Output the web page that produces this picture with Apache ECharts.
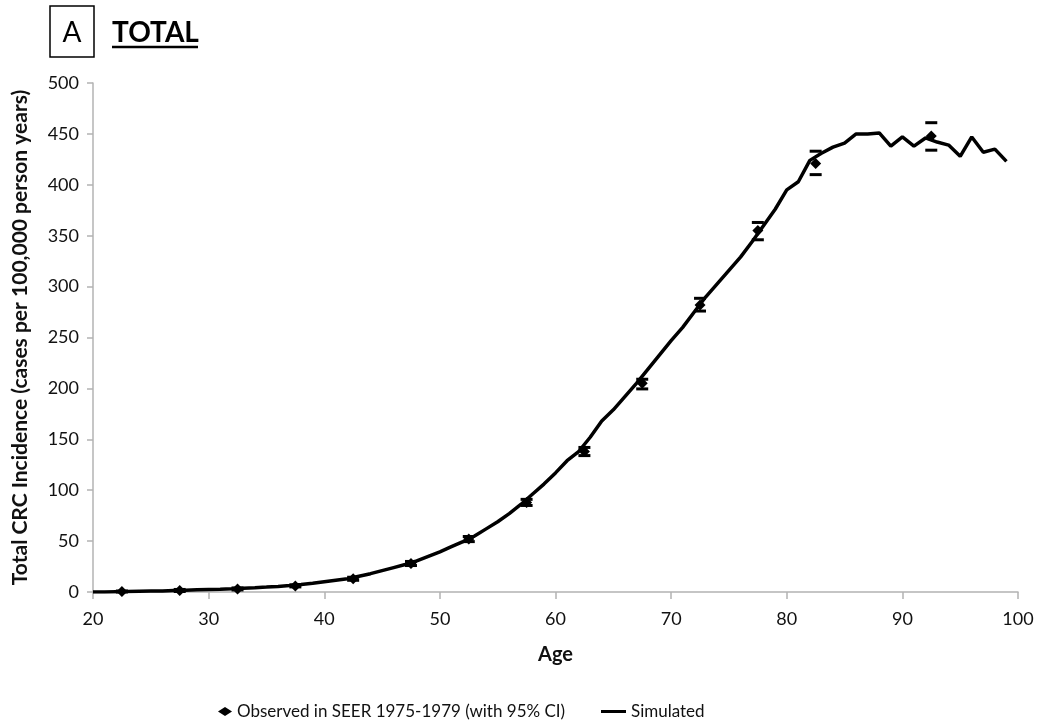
<!DOCTYPE html>
<html>
<head>
<meta charset="utf-8">
<script src="https://cdn.jsdelivr.net/npm/echarts@6/dist/echarts.min.js"></script>
<style>
html,body{margin:0;padding:0;background:#fff;}
#chart{width:1040px;height:723px;}
</style>
</head>
<body>
<div id="chart"></div>
<script>
// ---- data ----
var simAges = [];
for (var a = 20; a <= 99; a++) simAges.push(a);
var simValues = [0,0.1,0.3,0.5,0.7,0.9,1.1,1.4,1.7,2.1,
  2.5,2.8,3.2,3.7,4.2,4.8,5.5,6.3,7.3,8.5,
  10,11.5,13,15.5,18,21,24,27,30.5,35,
  39.5,44.5,49.5,55,62,69,77,86,96,106,
  117,129,138,152,168,179,192,205,219,233,
  247,260,275,290,303,316,329,344,360,376,
  395,403,424,431,437,441,450,450,451,438,
  447,438,446,442,439,428,447,432,435,423];
var obsAges   = [22.5,27.5,32.5,37.5,42.5,47.5,52.5,57.5,62.5,67.5,72.5,77.5,82.5,92.5];
var obsValues = [0.5,1.5,3,6,13,28,52,88,138,205,282,355,421,448];
var ciLow     = [0,0.5,2,5,11.5,26,49.5,85,134,199.5,276,346,410,434];
var ciHigh    = [1,2.5,4,7,14.5,30,54.5,91,142,209,288.5,363,433,461];
var xTicks = [20,30,40,50,60,70,80,90,100];
var yTicks = [0,50,100,150,200,250,300,350,400,450,500];
var obsName = 'Observed in SEER 1975-1979 (with 95% CI)';
var simName = 'Simulated';

var simData = simAges.map(function (x, i) { return [x, simValues[i]]; });
var obsData = obsAges.map(function (x, i) { return [x, obsValues[i]]; });
var ciData  = obsAges.map(function (x, i) { return [x, ciLow[i], ciHigh[i]]; });

var FONT = 'Lato, "Open Sans", sans-serif';
var TXT = '#111';
var chart = echarts.init(document.getElementById('chart'), null, {renderer: 'canvas'});

chart.setOption({
  backgroundColor: '#fff',
  animation: false,
  textStyle: {fontFamily: FONT},
  grid: {left: 93, right: 22, top: 83, bottom: 131, containLabel: false},
  graphic: [
    {type: 'rect', shape: {x: 50, y: 6, width: 44, height: 51},
     style: {fill: 'none', stroke: '#000', lineWidth: 1.5}},
    {type: 'text', x: 72, y: 33,
     style: {text: 'A', font: '28px ' + FONT, fill: '#000', align: 'center', verticalAlign: 'middle'}},
    {type: 'text', x: 112, y: 33,
     style: {text: 'TOTAL', font: 'bold 28px ' + FONT, fill: '#000', align: 'left', verticalAlign: 'middle'}},
    {type: 'line', shape: {x1: 112, y1: 47, x2: 198, y2: 47},
     style: {stroke: '#000', lineWidth: 2.5}}
  ],
  legend: [
    {left: 213, top: 698, itemWidth: 14, itemHeight: 9, icon: 'diamond',
     data: [{name: obsName, itemStyle: {color: '#000', opacity: 1}}],
     textStyle: {fontSize: 17, color: TXT, fontFamily: FONT}},
    {left: 596, top: 698, itemWidth: 25, itemHeight: 3, icon: 'rect',
     data: [{name: simName, itemStyle: {color: '#000'}}],
     textStyle: {fontSize: 17, color: TXT, fontFamily: FONT}}
  ],
  xAxis: {
    type: 'value', min: 20, max: 100, interval: 10,
    name: 'Age', nameLocation: 'middle', nameGap: 53,
    nameTextStyle: {fontSize: 20, fontWeight: 'bold', color: TXT, fontFamily: FONT},
    axisLine: {show: true, lineStyle: {color: '#b3b3b3', width: 1.5}},
    axisTick: {show: true, length: 7, lineStyle: {color: '#b3b3b3', width: 1.5}},
    axisLabel: {fontSize: 18, color: TXT, margin: 18, customValues: xTicks},
    splitLine: {show: false}
  },
  yAxis: {
    type: 'value', min: 0, max: 500, interval: 50,
    name: 'Total CRC Incidence (cases per 100,000 person years)',
    nameLocation: 'middle', nameGap: 62,
    nameTextStyle: {fontSize: 21, fontWeight: 'bold', color: TXT, fontFamily: FONT},
    axisLine: {show: true, lineStyle: {color: '#b3b3b3', width: 1.5}},
    axisTick: {show: true, length: 6, lineStyle: {color: '#b3b3b3', width: 1.5}},
    axisLabel: {fontSize: 18, color: TXT, margin: 14, customValues: yTicks},
    splitLine: {show: false}
  },
  series: [
    {name: simName, type: 'line', data: simData, showSymbol: false, symbol: 'none',
     lineStyle: {color: '#000', width: 3.5}, itemStyle: {color: '#000'}, z: 2},
    {name: obsName, type: 'custom', data: ciData, z: 3,
     renderItem: function (params, api) {
       var x = api.value(0);
       var lo = api.coord([x, api.value(1)]);
       var hi = api.coord([x, api.value(2)]);
       var hw = 6;
       return {type: 'group', children: [
         {type: 'line', shape: {x1: lo[0] - hw, y1: lo[1], x2: lo[0] + hw, y2: lo[1]},
          style: {stroke: '#000', lineWidth: 3}},
         {type: 'line', shape: {x1: hi[0] - hw, y1: hi[1], x2: hi[0] + hw, y2: hi[1]},
          style: {stroke: '#000', lineWidth: 3}}
       ]};
     }},
    {name: obsName, type: 'scatter', data: obsData, symbol: 'diamond', symbolSize: 11,
     itemStyle: {color: '#000', opacity: 1}, z: 4}
  ]
});
</script>
</body>
</html>
